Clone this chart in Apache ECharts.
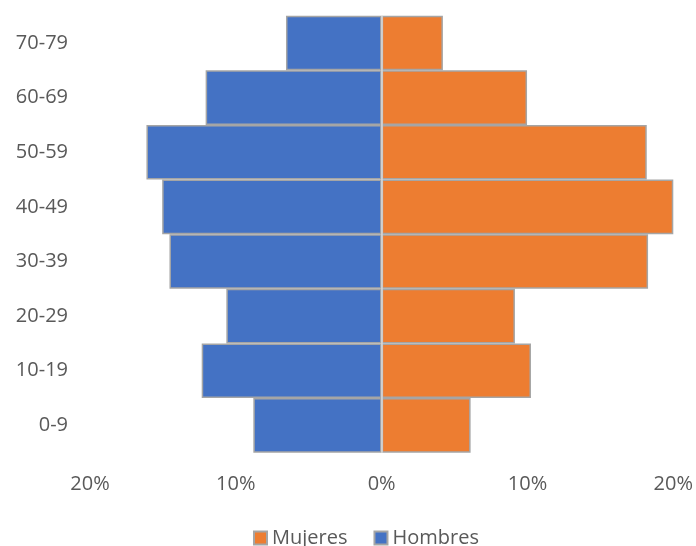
<!DOCTYPE html>
<html>
<head>
<meta charset="utf-8">
<script src="https://cdn.jsdelivr.net/npm/echarts@6/dist/echarts.min.js"></script>
<style>html,body{margin:0;padding:0;background:#fff}#c{width:696px;height:546px}</style>
</head>
<body>
<div id="c"></div>
<script>
const categories = ['0-9','10-19','20-29','30-39','40-49','50-59','60-69','70-79'];
const mujeres = [6.1, 10.24, 9.14, 18.27, 20.0, 18.18, 9.97, 4.2];
const hombres = [8.8, 12.34, 10.65, 14.55, 15.05, 16.13, 12.07, 6.56];
const xTicks = [-20, -10, 0, 10, 20];

const chart = echarts.init(document.getElementById('c'), null, {renderer: 'canvas'});
const font = '"Open Sans", sans-serif';
chart.setOption({
  animation: false,
  backgroundColor: '#ffffff',
  grid: {left: 90, right: 20, top: 15.7, bottom: 93.3, containLabel: false},
  legend: {
    data: ['Mujeres', 'Hombres'],
    left: 248, top: 523,
    itemWidth: 13, itemHeight: 13, itemGap: 26,
    icon: 'rect',
    textStyle: {fontFamily: font, fontSize: 20, color: '#595959', padding: [0, 0, 0, 0]},
    selectedMode: false
  },
  xAxis: {
    type: 'value', min: xTicks[0], max: xTicks[xTicks.length - 1], interval: 10,
    axisLine: {show: false}, axisTick: {show: false}, splitLine: {show: false},
    axisLabel: {
      formatter: v => Math.abs(v) + '%',
      fontFamily: font, fontSize: 20, color: '#595959', margin: 22
    }
  },
  yAxis: {
    type: 'category', data: categories,
    axisLine: {show: false, onZero: false}, axisTick: {show: false},
    axisLabel: {fontFamily: font, fontSize: 20, color: '#595959', margin: 22}
  },
  series: [
    {
      name: 'Mujeres', type: 'bar', data: mujeres,
      barCategoryGap: 0, barGap: '-100%',
      itemStyle: {color: '#ed7d31', borderColor: '#a5a5a5', borderWidth: 1.5},
      markLine: {
        silent: true, symbol: 'none', label: {show: false},
        lineStyle: {color: '#d9d9d9', width: 1.5, type: 'solid'},
        data: [{xAxis: 0}]
      }
    },
    {
      name: 'Hombres', type: 'bar', data: hombres.map(v => -v),
      barCategoryGap: 0, barGap: '-100%',
      itemStyle: {color: '#4472c4', borderColor: '#a5a5a5', borderWidth: 1.5}
    }
  ]
});
</script>
</body>
</html>
